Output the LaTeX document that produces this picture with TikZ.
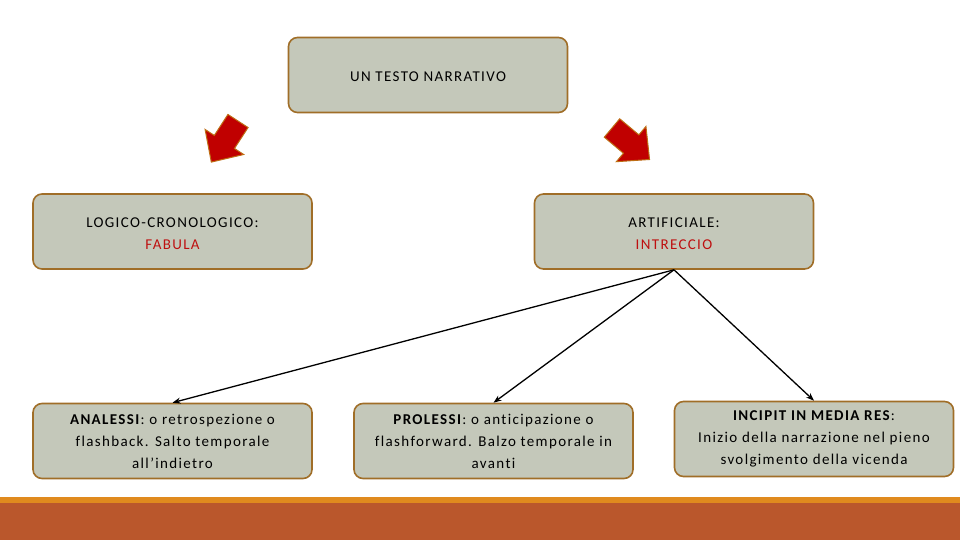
\documentclass[tikz,border=0pt]{standalone}
\usepackage{fontspec}
\setmainfont[LetterSpace=9,Ligatures=NoCommon]{Carlito}
\usetikzlibrary{arrows.meta}
\definecolor{boxfill}{RGB}{196,200,186}
\definecolor{boxline}{RGB}{160,110,40}
\definecolor{redtxt}{RGB}{190,16,16}
\definecolor{arrred}{RGB}{192,0,0}
\definecolor{arrline}{RGB}{190,110,20}
\definecolor{stripe}{RGB}{224,138,30}
\definecolor{rust}{RGB}{186,87,44}
\tikzset{
  box/.style={draw=boxline, line width=1.6pt, fill=boxfill, rounded corners=9pt,
    minimum width=279pt, minimum height=75pt, align=center, font=\fontsize{15}{22}\selectfont, inner sep=2pt},
  txt/.style={align=center, font=\fontsize{15}{22}\selectfont, inner sep=0pt, yshift=-2pt},
  bbox/.style={box},
  conn/.style={-{Stealth[length=8pt,width=6pt]}, line width=1.3pt},
  blockarrow/.style={fill=arrred, draw=arrline, line width=1pt, line join=miter}
}
\begin{document}
\begin{tikzpicture}[x=1pt,y=-1pt]
\useasboundingbox (0,0) rectangle (960,540);
\fill[white] (0,0) rectangle (960,540);
% bottom bar
\fill[stripe] (0,497) rectangle (960,503);
\fill[rust] (0,503) rectangle (960,540);
% boxes
\node[box, label={[txt]center:UN TESTO NARRATIVO}] (top) at (428,75) {};
\node[box, label={[txt]center:{LOGICO-CRONOLOGICO:\\\textcolor{redtxt}{FABULA}}}] (lm) at (172.5,231.5) {};
\node[box, label={[txt]center:{ARTIFICIALE:\\\textcolor{redtxt}{INTRECCIO}}}] (rm) at (674,231.5) {};
\node[bbox] (an) at (172.5,441) {\textbf{ANALESSI}: o retrospezione o\\flashback. Salto temporale\\all’indietro};
\node[bbox] (pr) at (493.5,441) {\textbf{PROLESSI}: o anticipazione o\\flashforward. Balzo temporale in\\avanti};
\node[bbox] (in) at (814,439) {\textbf{INCIPIT IN MEDIA RES}:\\Inizio della narrazione nel pieno\\svolgimento della vicenda};
% connectors
\draw[conn] (rm.south) -- (an.north);
\draw[conn] (rm.south) -- (pr.north);
\draw[conn] (rm.south) -- (in.north);
% block arrows
\begin{scope}[shift={(238,121)}, rotate=-123]
\draw[blockarrow] (0,-12) -- (25,-12) -- (25,-23) -- (49,0) -- (25,23) -- (25,12) -- (0,12) -- cycle;
\end{scope}
\begin{scope}[shift={(612,128)}, rotate=-40]
\draw[blockarrow] (0,-12) -- (25,-12) -- (25,-23) -- (49,0) -- (25,23) -- (25,12) -- (0,12) -- cycle;
\end{scope}
\end{tikzpicture}
\end{document}
